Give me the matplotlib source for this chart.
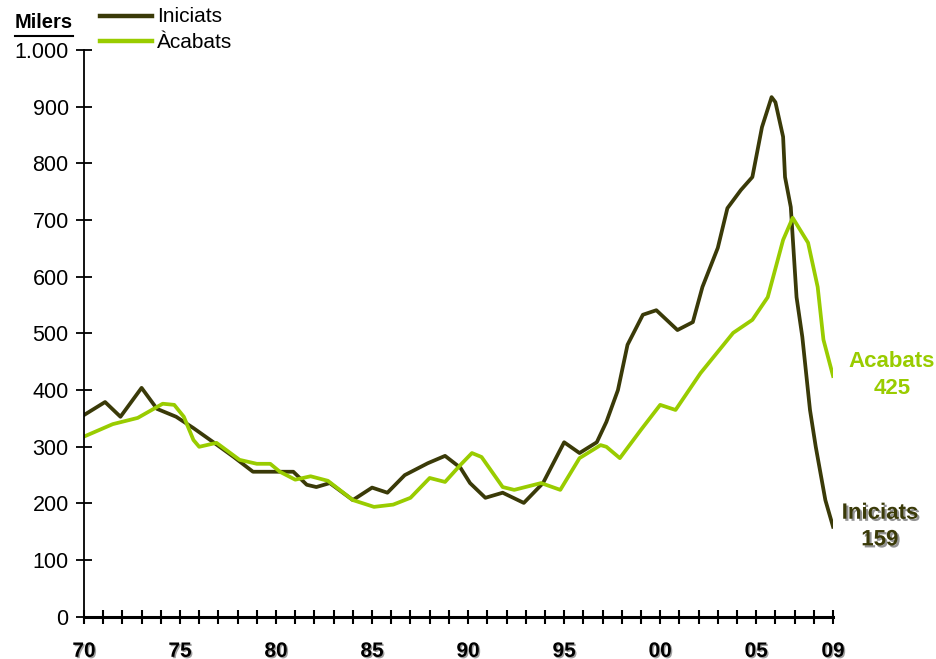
import matplotlib
matplotlib.use("Agg")
import matplotlib.pyplot as plt
from matplotlib.lines import Line2D
from matplotlib.ticker import FuncFormatter, MultipleLocator
import matplotlib.patheffects as pe

plt.rcParams['font.family'] = ['Liberation Sans', 'DejaVu Sans']

# series (year as decimal, thousands of dwellings)
ini_years = [1970.0, 1971.1, 1971.9, 1973.0, 1973.8, 1974.3, 1974.8, 1975.7, 1976.7, 1977.8,
             1978.8, 1980.0, 1980.9, 1981.6, 1982.1, 1982.8, 1984.0, 1985.0, 1985.8, 1986.7,
             1987.9, 1988.8, 1989.6, 1990.1, 1990.9, 1991.8, 1992.9, 1993.9, 1995.0, 1995.8,
             1996.7, 1997.2, 1997.8, 1998.3, 1999.1, 1999.8, 2000.9, 2001.7, 2002.2, 2003.0,
             2003.5, 2004.2, 2004.8, 2005.3, 2005.8, 2006.0, 2006.4, 2006.5, 2006.8, 2007.1,
             2007.4, 2007.8, 2008.1, 2008.6, 2009.0]
ini_vals = [356, 379, 353, 404, 367, 360, 353, 333, 309, 282,
            256, 256, 256, 233, 229, 236, 206, 228, 219, 250,
            271, 284, 263, 236, 210, 219, 201, 236, 308, 289,
            308, 344, 400, 480, 533, 541, 506, 520, 582, 651,
            721, 753, 776, 864, 917, 908, 847, 776, 723, 564,
            494, 365, 300, 206, 159]

aca_years = [1970.0, 1971.5, 1972.8, 1974.1, 1974.7, 1975.2, 1975.7, 1976.0, 1976.9, 1978.1,
             1979.0, 1979.7, 1980.2, 1981.0, 1981.8, 1982.7, 1984.0, 1985.1, 1986.1, 1987.0,
             1988.0, 1988.8, 1989.6, 1990.2, 1990.7, 1991.8, 1992.4, 1993.8, 1994.8, 1995.8,
             1996.9, 1997.2, 1997.9, 1999.0, 2000.0, 2000.8, 2002.1, 2003.8, 2004.8, 2005.6,
             2006.4, 2006.9, 2007.7, 2008.2, 2008.5, 2009.0]
aca_vals = [318, 340, 351, 376, 374, 353, 312, 300, 307, 277,
            270, 270, 256, 242, 248, 240, 206, 194, 198, 210,
            245, 238, 268, 289, 282, 229, 224, 236, 224, 280,
            303, 300, 280, 330, 374, 365, 430, 501, 524, 564,
            665, 704, 660, 582, 489, 425]

xtick_years = [1970, 1975, 1980, 1985, 1990, 1995, 2000, 2005, 2009]
xtick_labels = ['70', '75', '80', '85', '90', '95', '00', '05', '09']

dark = '#3a3a08'
green = '#99cc00'

fig = plt.figure(figsize=(9.36, 6.59), dpi=100)
ax = fig.add_axes([0.0897, 0.064, 0.8003, 0.860])

ax.plot(ini_years, ini_vals, color=dark, lw=2.7, solid_joinstyle='round')
ax.plot(aca_years, aca_vals, color=green, lw=2.7, solid_joinstyle='round')

ax.set_xlim(1970, 2009)
ax.set_ylim(0, 1000)
ax.spines['top'].set_visible(False)
ax.spines['right'].set_visible(False)
ax.spines['left'].set_linewidth(1.3)
ax.spines['bottom'].set_linewidth(2.2)

ax.yaxis.set_major_locator(MultipleLocator(100))
ax.yaxis.set_major_formatter(FuncFormatter(lambda v, p: f"{int(v):,}".replace(',', '.')))
ax.tick_params(axis='y', direction='inout', length=12, width=1.3, labelsize=15.5, pad=5)

ax.set_xticks(range(1970, 2010), minor=True)
ax.set_xticks(xtick_years)
ax.set_xticklabels(xtick_labels, fontweight='bold')
ax.tick_params(axis='x', which='both', direction='inout', length=10, width=1.5,
               labelsize=15, pad=13)
for lab in ax.get_xticklabels():
    lab.set_path_effects([pe.withSimplePatchShadow(offset=(1, -1), shadow_rgbFace='#888888', alpha=0.8)])

# "Milers" with underline
fig.text(0.016, 0.958, 'Milers', fontsize=14.5, fontweight='bold', ha='left', va='baseline')
fig.add_artist(Line2D([0.016, 0.078], [0.946, 0.946], color='black', lw=1.5))

# legend drawn by hand
fig.add_artist(Line2D([0.107, 0.162], [0.975, 0.975], color=dark, lw=3.2))
fig.add_artist(Line2D([0.107, 0.162], [0.938, 0.938], color=green, lw=3.2))
fig.text(0.168, 0.975, 'Iniciats', fontsize=15, va='center', ha='left')
fig.text(0.168, 0.936, 'Àcabats', fontsize=15, va='center', ha='left')

# end labels
ax.annotate('Acabats\n425', xy=(aca_years[-1], aca_vals[-1]), xytext=(0.953, 0.431),
            textcoords='figure fraction', ha='center', va='center', fontsize=16,
            fontweight='bold', color=green, linespacing=1.35)
ax.annotate('Iniciats\n159', xy=(ini_years[-1], ini_vals[-1]), xytext=(0.94, 0.201),
            textcoords='figure fraction', ha='center', va='center', fontsize=16,
            fontweight='bold', color=dark, linespacing=1.35,
            path_effects=[pe.withSimplePatchShadow(offset=(1.5, -1.5), shadow_rgbFace='#777777', alpha=0.8)])

fig.savefig('out.png', dpi=100)
